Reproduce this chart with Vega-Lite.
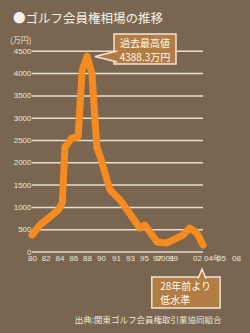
{
  "$schema": "https://vega.github.io/schema/vega-lite/v6.json",
  "autosize": {"type": "none"},
  "width": 204,
  "height": 223,
  "padding": {"left": 32, "top": 29, "right": 14, "bottom": 81},
  "background": "#7A6650",
  "config": {"view": {"stroke": null}},
  "title": {
    "text": "●ゴルフ会員権相場の推移",
    "anchor": "start",
    "frame": "group",
    "font": "Noto Sans CJK JP",
    "fontSize": 12.5,
    "fontWeight": "normal",
    "color": "#F6F1E8",
    "baseline": "alphabetic",
    "offset": 7,
    "dx": -19,
    "dy": 13
  },
  "resolve": {"axis": {"x": "independent", "y": "independent"}},
  "datasets": {
    "series": [
      {"year": 1980, "value": 381},
      {"year": 1981.16, "value": 605},
      {"year": 1982.6, "value": 785},
      {"year": 1983.8, "value": 942},
      {"year": 1984.4, "value": 1099},
      {"year": 1984.8, "value": 2354},
      {"year": 1985.8, "value": 2556},
      {"year": 1986.7, "value": 2578},
      {"year": 1987.3, "value": 4080},
      {"year": 1988.0, "value": 4388.3},
      {"year": 1988.7, "value": 4013},
      {"year": 1989.4, "value": 2354},
      {"year": 1989.9, "value": 2130},
      {"year": 1990.6, "value": 1390},
      {"year": 1991.6, "value": 1166},
      {"year": 1992.6, "value": 942},
      {"year": 1994.4, "value": 538},
      {"year": 1995.15, "value": 605},
      {"year": 1997.0, "value": 224},
      {"year": 1998.25, "value": 202},
      {"year": 2000.25, "value": 381},
      {"year": 2001.1, "value": 538},
      {"year": 2002.0, "value": 426},
      {"year": 2002.8, "value": 157}
    ],
    "grid": [
      {"level": 0}, {"level": 500}, {"level": 1000}, {"level": 1500}, {"level": 2000},
      {"level": 2500}, {"level": 3000}, {"level": 3500}, {"level": 4000}, {"level": 4500}
    ],
    "boxes": [
      {"name": "peak", "x1": 1990.87, "x2": 1999.375, "y1": 4215, "y2": 4888},
      {"name": "low", "x1": 1996.2, "x2": 2004.9, "y1": -1256, "y2": -560}
    ],
    "wedges": [
      {"name": "peak", "x": 1990.23, "y": 4383},
      {"name": "low", "x": 2002.67, "y": -471}
    ],
    "centerText": [
      {"x": 1995.15, "y": 4655, "text": "過去最高値"},
      {"x": 1995.15, "y": 4345, "text": "4388.3万円"}
    ],
    "leftText": [
      {"x": 1997.4, "y": -785, "text": "28年前より"},
      {"x": 1997.4, "y": -1099, "text": "低水準"}
    ]
  },
  "encoding": {
    "x": {
      "type": "quantitative",
      "scale": {
        "domain": [1980, 1988, 1990, 1991, 1995, 1997, 1999, 2002, 2004, 2005, 2008],
        "range": [0, 55, 69, 84, 112, 125, 141, 165, 180, 189, 204],
        "nice": false,
        "zero": false
      }
    },
    "y": {
      "type": "quantitative",
      "scale": {"domain": [0, 5000], "nice": false, "zero": true}
    }
  },
  "layer": [
    {
      "data": {"name": "grid"},
      "mark": {"type": "rule", "color": "#E8DECA", "strokeWidth": 1.5, "clip": false},
      "encoding": {
        "x": {"datum": 1980, "type": "quantitative", "axis": {
          "values": [1980, 1982, 1984, 1986, 1988, 1990, 1991, 1993, 1995, 1997, 1998, 1999, 2002, 2004, 2005, 2008],
          "labelExpr": "datum.value == 1998 ? '2001' : datum.value == 2004 ? '04年' : slice(toString(datum.value), 2)",
          "domain": false, "ticks": false, "grid": false,
          "labelOverlap": false, "labelFlush": false,
          "labelPadding": 2, "labelFontSize": 8, "labelFont": "Liberation Sans",
          "labelColor": "#EDE5D5",
          "title": "出典:関東ゴルフ会員権取引業協同組合",
          "titleFont": "Noto Sans CJK JP", "titleFontSize": 8.5, "titleFontWeight": "normal",
          "titleColor": "#EDE5D5", "titleAlign": "right", "titleBaseline": "alphabetic",
          "titleX": 189, "titleY": 70
        }},
        "x2": {"datum": 2002.8},
        "y": {"field": "level", "type": "quantitative", "axis": {
          "values": [0, 500, 1000, 1500, 2000, 2500, 3000, 3500, 4000, 4500],
          "format": "d",
          "domain": false, "ticks": false, "grid": false,
          "labelPadding": 1, "labelFontSize": 8, "labelFont": "Liberation Sans",
          "labelColor": "#EDE5D5",
          "title": "(万円)",
          "titleFont": "Noto Sans CJK JP", "titleFontSize": 8, "titleFontWeight": "normal",
          "titleColor": "#EDE5D5", "titleAngle": 0, "titleAlign": "right", "titleBaseline": "middle",
          "titleX": -1, "titleY": 11
        }}
      }
    },
    {
      "data": {"name": "series"},
      "mark": {"type": "line", "color": "#F68B1F", "strokeWidth": 7, "strokeCap": "round", "strokeJoin": "round", "clip": false},
      "encoding": {
        "x": {"field": "year", "type": "quantitative", "axis": null},
        "y": {"field": "value", "type": "quantitative", "axis": null}
      }
    },
    {
      "data": {"name": "boxes"},
      "mark": {"type": "rect", "fill": "#B17D45", "stroke": "#F0E6D2", "strokeWidth": 1.5, "clip": false},
      "encoding": {
        "x": {"field": "x1", "type": "quantitative", "axis": null},
        "x2": {"field": "x2"},
        "y": {"field": "y1", "type": "quantitative", "axis": null},
        "y2": {"field": "y2"}
      }
    },
    {
      "data": {"name": "wedges"},
      "transform": [{"filter": "datum.name == 'peak'"}],
      "mark": {"type": "point", "shape": "M 1.35 -0.58 L -1 0 L 1.35 0.58", "size": 361, "filled": true, "fill": "#B17D45", "stroke": "#F0E6D2", "strokeWidth": 1.5, "opacity": 1, "clip": false},
      "encoding": {
        "x": {"field": "x", "type": "quantitative", "axis": null},
        "y": {"field": "y", "type": "quantitative", "axis": null}
      }
    },
    {
      "data": {"name": "wedges"},
      "transform": [{"filter": "datum.name == 'low'"}],
      "mark": {"type": "point", "shape": "M -1 1.45 L 0 -1 L 1 1.45", "size": 64, "filled": true, "fill": "#B17D45", "stroke": "#F0E6D2", "strokeWidth": 1.5, "opacity": 1, "clip": false},
      "encoding": {
        "x": {"field": "x", "type": "quantitative", "axis": null},
        "y": {"field": "y", "type": "quantitative", "axis": null}
      }
    },
    {
      "data": {"name": "centerText"},
      "mark": {"type": "text", "font": "Noto Sans CJK JP", "fontSize": 10, "color": "#FFF8EE", "align": "center", "baseline": "middle", "clip": false},
      "encoding": {
        "x": {"field": "x", "type": "quantitative", "axis": null},
        "y": {"field": "y", "type": "quantitative", "axis": null},
        "text": {"field": "text"}
      }
    },
    {
      "data": {"name": "leftText"},
      "mark": {"type": "text", "font": "Noto Sans CJK JP", "fontSize": 10, "color": "#FFF8EE", "align": "left", "baseline": "middle", "clip": false},
      "encoding": {
        "x": {"field": "x", "type": "quantitative", "axis": null},
        "y": {"field": "y", "type": "quantitative", "axis": null},
        "text": {"field": "text"}
      }
    }
  ]
}
